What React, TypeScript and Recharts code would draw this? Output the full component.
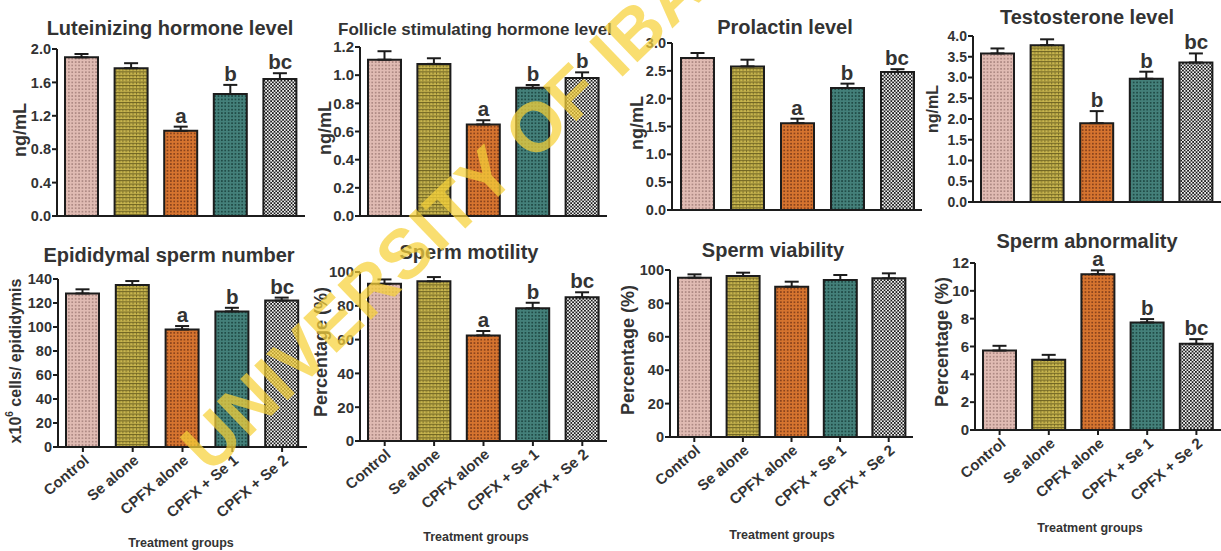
import React from 'react'
import { ComposedChart, Bar, Scatter, XAxis, YAxis, ErrorBar, Cell } from 'recharts'

const GROUPS = ['Control', 'Se alone', 'CPFX alone', 'CPFX + Se 1', 'CPFX + Se 2']

const LH_MEAN = [1.9, 1.77, 1.02, 1.46, 1.64]
const LH_SEM = [0.04, 0.06, 0.05, 0.11, 0.07]
const LH_SIG = ['', '', 'a', 'b', 'bc']
const LH_TICKS = [0, 0.4, 0.8, 1.2, 1.6, 2.0]

const FSH_MEAN = [1.11, 1.08, 0.65, 0.91, 0.98]
const FSH_SEM = [0.06, 0.04, 0.03, 0.02, 0.04]
const FSH_SIG = ['', '', 'a', 'b', 'b']
const FSH_TICKS = [0, 0.2, 0.4, 0.6, 0.8, 1.0, 1.2]

const PRL_MEAN = [2.73, 2.58, 1.56, 2.19, 2.48]
const PRL_SEM = [0.09, 0.12, 0.08, 0.08, 0.05]
const PRL_SIG = ['', '', 'a', 'b', 'bc']
const PRL_TICKS = [0, 0.5, 1.0, 1.5, 2.0, 2.5, 3.0]

const TES_MEAN = [3.58, 3.78, 1.9, 2.97, 3.36]
const TES_SEM = [0.12, 0.14, 0.29, 0.17, 0.22]
const TES_SIG = ['', '', 'b', 'b', 'bc']
const TES_TICKS = [0, 0.5, 1.0, 1.5, 2.0, 2.5, 3.0, 3.5, 4.0]

const ESN_MEAN = [128, 135, 98, 113, 122]
const ESN_SEM = [3.4, 3.3, 2.8, 3.0, 2.5]
const ESN_SIG = ['', '', 'a', 'b', 'bc']
const ESN_TICKS = [0, 20, 40, 60, 80, 100, 120, 140]

const MOT_MEAN = [93, 94.5, 62.5, 78.5, 85]
const MOT_SEM = [2.6, 2.5, 2.6, 3.3, 3.0]
const MOT_SIG = ['', '', 'a', 'b', 'bc']
const PCT_TICKS = [0, 20, 40, 60, 80, 100]

const VIA_MEAN = [95.4, 96.4, 90, 94, 95]
const VIA_SEM = [2, 2, 3, 3, 3]
const VIA_SIG = ['', '', '', '', '']

const ABN_MEAN = [5.71, 5.04, 11.2, 7.73, 6.19]
const ABN_SEM = [0.34, 0.36, 0.27, 0.24, 0.34]
const ABN_SIG = ['', '', 'a', 'b', 'bc']
const ABN_TICKS = [0, 2, 4, 6, 8, 10, 12]

const FONT = '"Liberation Sans", Arial, sans-serif'
const INK = '#1c1c1c'
const TEXT = '#333'

type Panel = {
  title: string
  titleSize: number
  titleX: number
  titleY: number
  yLabel: React.ReactNode
  yLabelSize: number
  yLabelX: number
  yLabelY: number
  tickSize: number
  mean: number[]
  sem: number[]
  sig: string[]
  ticks: number[]
  decimals: number
  box: [number, number, number, number] // left, top, width, height
  plot: [number, number, number, number] // axisX, plotTop, plotBottom, plotRight
  xTitle?: [number, number]
}

const PANELS: Panel[] = [
  {
    title: 'Luteinizing hormone level', titleSize: 20, titleX: 170, titleY: 28,
    yLabel: 'ng/mL', yLabelSize: 18, yLabelX: 20, yLabelY: 130, tickSize: 14.5,
    mean: LH_MEAN, sem: LH_SEM, sig: LH_SIG, ticks: LH_TICKS, decimals: 1,
    box: [0, 0, 310, 230], plot: [57, 49, 216, 305],
  },
  {
    title: 'Follicle stimulating hormone level', titleSize: 17, titleX: 475, titleY: 29,
    yLabel: 'ng/mL', yLabelSize: 18, yLabelX: 325, yLabelY: 128, tickSize: 15,
    mean: FSH_MEAN, sem: FSH_SEM, sig: FSH_SIG, ticks: FSH_TICKS, decimals: 1,
    box: [300, 0, 310, 230], plot: [360, 47, 216, 607],
  },
  {
    title: 'Prolactin level', titleSize: 20, titleX: 785, titleY: 27,
    yLabel: 'ng/mL', yLabelSize: 18, yLabelX: 637, yLabelY: 123, tickSize: 14.5,
    mean: PRL_MEAN, sem: PRL_SEM, sig: PRL_SIG, ticks: PRL_TICKS, decimals: 1,
    box: [610, 0, 312, 230], plot: [672, 43, 210, 922],
  },
  {
    title: 'Testosterone level', titleSize: 20, titleX: 1087, titleY: 17,
    yLabel: 'ng/mL', yLabelSize: 16, yLabelX: 932, yLabelY: 109, tickSize: 14,
    mean: TES_MEAN, sem: TES_SEM, sig: TES_SIG, ticks: TES_TICKS, decimals: 1,
    box: [922, 0, 299, 230], plot: [973, 36, 202, 1221],
  },
  {
    title: 'Epididymal sperm number', titleSize: 20, titleX: 169, titleY: 255,
    yLabel: (
      <>
        x10<tspan dy={-6} fontSize={10}>6</tspan>
        <tspan dy={6}> cells/ epididymis</tspan>
      </>
    ),
    yLabelSize: 16, yLabelX: 15, yLabelY: 361, tickSize: 14.5,
    mean: ESN_MEAN, sem: ESN_SEM, sig: ESN_SIG, ticks: ESN_TICKS, decimals: 0,
    box: [0, 230, 310, 321], plot: [58, 279, 447, 307], xTitle: [181, 543],
  },
  {
    title: 'Sperm motility', titleSize: 20, titleX: 469, titleY: 252,
    yLabel: 'Percentage (%)', yLabelSize: 18, yLabelX: 321, yLabelY: 352, tickSize: 15,
    mean: MOT_MEAN, sem: MOT_SEM, sig: MOT_SIG, ticks: PCT_TICKS, decimals: 0,
    box: [307, 230, 303, 321], plot: [360, 272, 441, 607], xTitle: [476, 537],
  },
  {
    title: 'Sperm viability', titleSize: 20, titleX: 773, titleY: 250,
    yLabel: 'Percentage (%)', yLabelSize: 18, yLabelX: 628, yLabelY: 350, tickSize: 14.5,
    mean: VIA_MEAN, sem: VIA_SEM, sig: VIA_SIG, ticks: PCT_TICKS, decimals: 0,
    box: [610, 230, 305, 321], plot: [670, 270, 437, 913], xTitle: [782, 535],
  },
  {
    title: 'Sperm abnormality', titleSize: 20, titleX: 1087, titleY: 241,
    yLabel: 'Percentage (%)', yLabelSize: 18, yLabelX: 942, yLabelY: 342, tickSize: 15,
    mean: ABN_MEAN, sem: ABN_SEM, sig: ABN_SIG, ticks: ABN_TICKS, decimals: 0,
    box: [918, 230, 303, 321], plot: [975, 263, 430, 1221], xTitle: [1090, 528],
  },
]

function Patterns() {
  const s = 3.4
  const h = s / 2
  return (
    <svg width={0} height={0} style={{ position: 'absolute' }}>
      <defs>
        <pattern id="pat-0" width={s} height={s} patternUnits="userSpaceOnUse">
          <rect width={s} height={s} fill="#e0bbb3" />
          <rect width={h} height={h} fill="#ae8a84" />
        </pattern>
        <pattern id="pat-1" width={s * 2} height={s} patternUnits="userSpaceOnUse">
          <rect width={s * 2} height={s} fill="#c8b54e" />
          <rect width={s * 2} height={1} fill="#6e6322" />
          <rect x={0} y={1} width={1} height={h} fill="#7a6e28" />
          <rect x={s} y={1} width={1} height={h} fill="#7a6e28" />
        </pattern>
        <pattern id="pat-2" width={s} height={s} patternUnits="userSpaceOnUse">
          <rect width={s} height={s} fill="#d6742f" />
          <rect width={h} height={h} fill="#8a431c" />
        </pattern>
        <pattern id="pat-3" width={s} height={s} patternUnits="userSpaceOnUse">
          <rect width={s} height={s} fill="#44807a" />
          <rect width={h} height={h} fill="#214b46" />
        </pattern>
        <pattern id="pat-4" width={s} height={s} patternUnits="userSpaceOnUse">
          <rect width={s} height={s} fill="#f2f2f2" />
          <rect width={h} height={h} fill="#1a1a1a" />
          <rect x={h} y={h} width={h} height={h} fill="#1a1a1a" />
        </pattern>
      </defs>
    </svg>
  )
}

function SlantTick(props: any) {
  const { x, y, payload } = props
  return (
    <g transform={`translate(${x + 7},${y + 8})`}>
      <text
        transform="rotate(-40)"
        textAnchor="end"
        fill={TEXT}
        fontSize={15}
        fontWeight="bold"
        fontFamily={FONT}
      >
        {payload.value}
      </text>
    </g>
  )
}

function Letter(props: any) {
  const { cx, cy, payload } = props
  if (!payload || !payload.sig) return <g />
  return (
    <text x={cx} y={cy - 4} textAnchor="middle" fill={TEXT} fontSize={20.5} fontWeight="bold" fontFamily={FONT}>
      {payload.sig}
    </text>
  )
}

function PanelChart({ p, bottomRow }: { p: Panel; bottomRow: boolean }) {
  const [left, top, width, height] = p.box
  const [axisX, plotTop, plotBottom, plotRight] = p.plot
  const data = GROUPS.map((g, i) => ({
    group: g,
    mean: p.mean[i],
    err: [0, p.sem[i]],
    top: p.mean[i] + p.sem[i],
    sig: p.sig[i],
  }))
  const max = p.ticks[p.ticks.length - 1]
  const axisStyle = { stroke: INK, strokeWidth: 2 }
  return (
    <div style={{ position: 'absolute', left, top, width, height }}>
      <ComposedChart
        width={width}
        height={height}
        data={data}
        margin={{ top: plotTop - top, right: left + width - plotRight, bottom: 0, left: 0 }}
      >
        <XAxis
          dataKey="group"
          type="category"
          height={top + height - plotBottom}
          axisLine={axisStyle}
          tickLine={axisStyle}
          tickSize={5}
          interval={0}
          tick={bottomRow ? <SlantTick /> : false}
        />
        <YAxis
          type="number"
          domain={[0, max]}
          ticks={p.ticks}
          width={axisX - left}
          axisLine={axisStyle}
          tickLine={axisStyle}
          tickSize={5}
          tickMargin={1}
          interval={0}
          tickFormatter={(v: number) => v.toFixed(p.decimals)}
          tick={{ fill: TEXT, fontSize: p.tickSize, fontWeight: 'bold', fontFamily: FONT }}
        />
        <Bar dataKey="mean" barSize={33} stroke={INK} strokeWidth={2} isAnimationActive={false}>
          {data.map((_, i) => (
            <Cell key={i} fill={`url(#pat-${i})`} />
          ))}
          <ErrorBar dataKey="err" width={7} stroke={INK} strokeWidth={2} direction="y" />
        </Bar>
        <Scatter dataKey="top" shape={<Letter />} isAnimationActive={false} />
      </ComposedChart>
    </div>
  )
}

export default function App() {
  return (
    <div style={{ position: 'absolute', left: 0, top: 0, width: 1221, height: 551, background: '#fff', overflow: 'hidden' }}>
      <style>{'body{margin:0;overflow:hidden}'}</style>
      <Patterns />
      {PANELS.map((p, i) => (
        <PanelChart key={p.title} p={p} bottomRow={i >= 4} />
      ))}
      <svg width={1221} height={551} style={{ position: 'absolute', left: 0, top: 0, pointerEvents: 'none' }}>
        {PANELS.map((p) => (
          <g key={p.title} fontFamily={FONT} fontWeight="bold" fill={TEXT}>
            <text x={p.titleX} y={p.titleY} fontSize={p.titleSize} textAnchor="middle" dominantBaseline="central">
              {p.title}
            </text>
            <text
              x={p.yLabelX}
              y={p.yLabelY}
              fontSize={p.yLabelSize}
              textAnchor="middle"
              dominantBaseline="central"
              transform={`rotate(-90 ${p.yLabelX} ${p.yLabelY})`}
            >
              {p.yLabel}
            </text>
            {p.xTitle && (
              <text x={p.xTitle[0]} y={p.xTitle[1]} fontSize={12.5} textAnchor="middle" dominantBaseline="central">
                Treatment groups
              </text>
            )}
          </g>
        ))}
        <text
          x={210}
          y={475}
          fontSize={70}
          fontWeight="bold"
          letterSpacing={1}
          fontFamily={FONT}
          fill="#f7d23a"
          opacity={0.72}
          transform="rotate(-44 210 475)"
        >
          UNIVERSITY OF IBADAN
        </text>
      </svg>
    </div>
  )
}
